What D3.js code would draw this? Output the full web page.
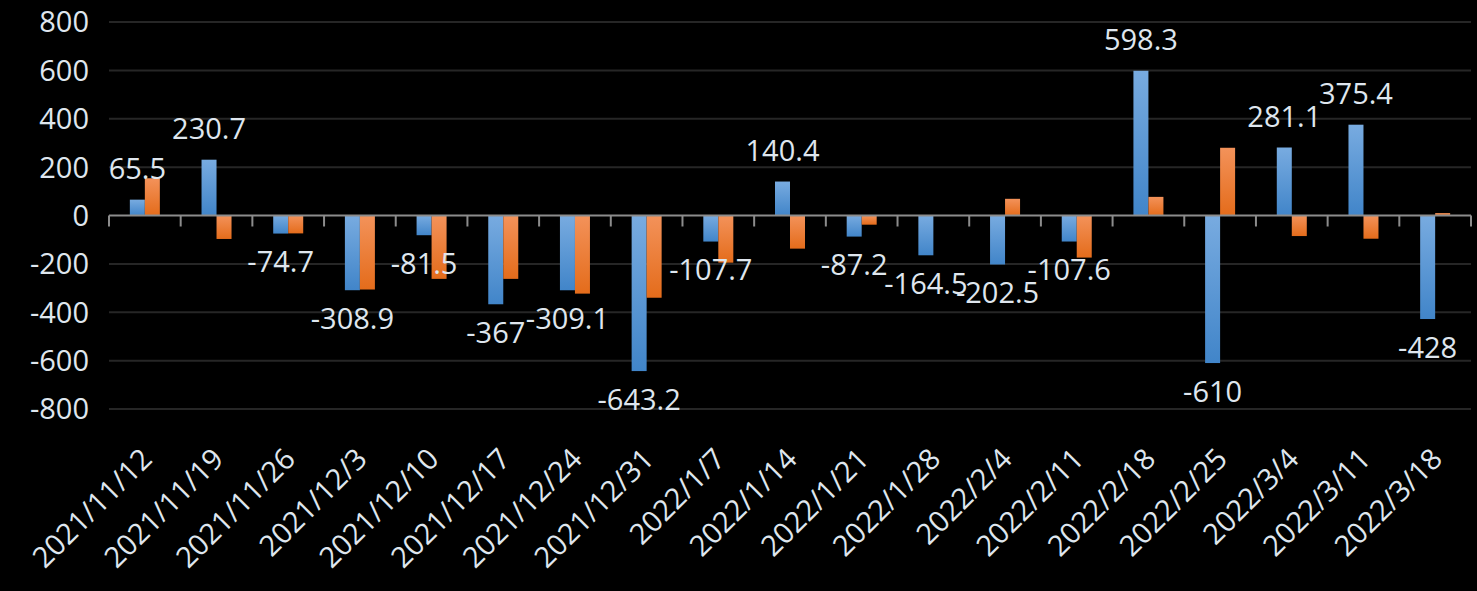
<!DOCTYPE html>
<html>
<head>
<meta charset="utf-8">
<script src="https://cdn.jsdelivr.net/npm/d3@7"></script>
<style>
  body { margin: 0; background: #000; }
  svg { display: block; }
</style>
</head>
<body>
<svg id="chart"></svg>
<script>
const categories = ["2021/11/12", "2021/11/19", "2021/11/26", "2021/12/3", "2021/12/10", "2021/12/17",
  "2021/12/24", "2021/12/31", "2022/1/7", "2022/1/14", "2022/1/21", "2022/1/28", "2022/2/4",
  "2022/2/11", "2022/2/18", "2022/2/25", "2022/3/4", "2022/3/11", "2022/3/18"]
const blueValues = [65.5, 230.7, -74.7, -308.9, -81.5, -367, -309.1, -643.2, -107.7, 140.4,
  -87.2, -164.5, -202.5, -107.6, 598.3, -610, 281.1, 375.4, -428]
const orangeValues = [154, -97, -74, -306, -262, -262, -323, -340, -195, -137,
  -38, 0, 69, -174, 77, 280, -85, -96, 10]
const yTicks = [-800, -600, -400, -200, 0, 200, 400, 600, 800]

const width = 1477
const height = 591
const plotLeft = 109
const plotRight = 1471
const plotTop = 22
const plotBottom = 409
const textColor = "#dfe6ee"
const font = "'Open Sans', 'Noto Sans', sans-serif"

const svg = d3.select("#chart").attr("width", width).attr("height", height)
svg.append("rect").attr("width", width).attr("height", height).attr("fill", "#000")

const defs = svg.append("defs")
function grad(id, c1, c2) {
  const g = defs.append("linearGradient").attr("id", id)
    .attr("x1", 0).attr("y1", 0).attr("x2", 0).attr("y2", 1)
  g.append("stop").attr("offset", "0%").attr("stop-color", c1)
  g.append("stop").attr("offset", "100%").attr("stop-color", c2)
}
grad("blueGrad", "#78abe0", "#4185c9")
grad("orangeGrad", "#f3925a", "#e46c1b")

const xScale = d3.scaleBand().domain(categories).range([plotLeft, plotRight])
const yScale = d3.scaleLinear().domain([-800, 800]).range([plotBottom, plotTop])
const barW = 15

// gridlines
svg.append("g")
  .selectAll("line")
  .data(yTicks.filter(d => d !== 0))
  .enter()
  .append("line")
  .attr("x1", plotLeft).attr("x2", plotRight)
  .attr("y1", d => yScale(d)).attr("y2", d => yScale(d))
  .attr("stroke", "#262626")
  .attr("stroke-width", 2)

// y labels
svg.append("g")
  .selectAll("text")
  .data(yTicks)
  .enter()
  .append("text")
  .attr("x", 89)
  .attr("y", d => yScale(d))
  .attr("dy", "0.36em")
  .attr("text-anchor", "end")
  .attr("fill", textColor)
  .style("font-family", font)
  .style("font-size", "29px")
  .text(d => d)

const series = [
  { values: blueValues, fill: "url(#blueGrad)", offset: -barW },
  { values: orangeValues, fill: "url(#orangeGrad)", offset: 0 }
]

series.forEach(s => {
  svg.append("g")
    .selectAll("rect")
    .data(categories)
    .enter()
    .append("rect")
    .attr("x", (d) => xScale(d) + xScale.bandwidth() / 2 + s.offset)
    .attr("width", barW)
    .attr("y", (d, i) => yScale(Math.max(0, s.values[i])))
    .attr("height", (d, i) => Math.abs(yScale(s.values[i]) - yScale(0)))
    .attr("fill", s.fill)
})

// zero axis + ticks
svg.append("line")
  .attr("x1", plotLeft).attr("x2", plotRight)
  .attr("y1", yScale(0)).attr("y2", yScale(0))
  .attr("stroke", "#8c8c8c").attr("stroke-width", 2)

const boundaries = categories.map(d => xScale(d)).concat([plotRight])
svg.append("g")
  .selectAll("line")
  .data(boundaries)
  .enter()
  .append("line")
  .attr("x1", d => d).attr("x2", d => d)
  .attr("y1", yScale(0)).attr("y2", yScale(0) + 11)
  .attr("stroke", "#8c8c8c").attr("stroke-width", 2)

// data labels on blue series
svg.append("g")
  .selectAll("text")
  .data(categories)
  .enter()
  .append("text")
  .attr("x", d => xScale(d) + xScale.bandwidth() / 2 - barW / 2)
  .attr("y", (d, i) => blueValues[i] >= 0 ? yScale(blueValues[i]) - 21 : yScale(blueValues[i]) + 18)
  .attr("dy", (d, i) => blueValues[i] >= 0 ? "0em" : "0.72em")
  .attr("text-anchor", "middle")
  .attr("fill", textColor)
  .style("font-family", font)
  .style("font-size", "29px")
  .text((d, i) => blueValues[i])

// x labels
svg.append("g")
  .selectAll("text")
  .data(categories)
  .enter()
  .append("text")
  .attr("transform", d => "translate(" + (xScale(d) + xScale.bandwidth() / 2 - 6) + ",446) rotate(-45)")
  .attr("dy", "0.72em")
  .attr("text-anchor", "end")
  .attr("fill", textColor)
  .style("font-family", font)
  .style("font-size", "29px")
  .text(d => d)
</script>
</body>
</html>
